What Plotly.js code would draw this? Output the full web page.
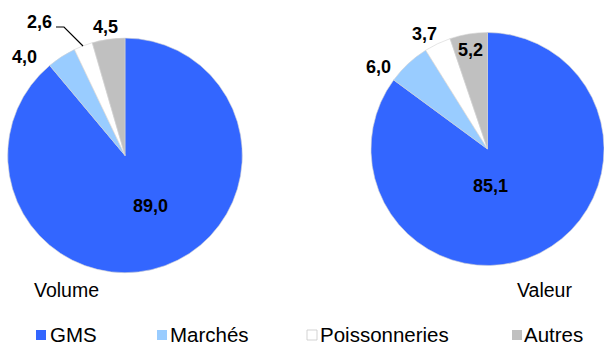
<!DOCTYPE html>
<html>
<head>
<meta charset="utf-8">
<script src="https://cdn.plot.ly/plotly-3.0.1.min.js"></script>
<style>html,body{margin:0;padding:0;background:#fff;}#chart{width:604px;height:342px;}</style>
</head>
<body>
<div id="chart"></div>
<script>
// ---- data ----
const categories = ["GMS", "Marchés", "Poissonneries", "Autres"];
const volumeValues = [89.0, 4.0, 2.6, 4.5];
const valeurValues = [85.1, 6.0, 3.7, 5.2];
const pieTitles = ["Volume", "Valeur"];
const sliceColors = ["#3366FF", "#99CCFF", "#FFFFFF", "#C0C0C0"];

// ---- layout helpers (pixel -> paper) ----
const W = 604, H = 342;
const px = x => x / W;
const py = y => 1 - y / H;
const FONT = "Liberation Sans, Arial, sans-serif";
const fmt = v => v.toFixed(1).replace(".", ",");

const pieCommon = {
  type: "pie",
  labels: categories,
  sort: false,
  direction: "clockwise",
  rotation: 0,
  textinfo: "none",
  hoverinfo: "label+value",
  showlegend: false,
  marker: {colors: sliceColors, line: {color: "#d4d4d4", width: 0.6}}
};

const traces = [
  Object.assign({}, pieCommon, {
    values: volumeValues, name: pieTitles[0],
    domain: {x: [px(7.7), px(242.3)], y: [py(272.7), py(38.1)]}
  }),
  Object.assign({}, pieCommon, {
    values: valeurValues, name: pieTitles[1],
    domain: {x: [px(371), 1], y: [py(266), py(32)]}
  })
];

// value label positions (pixel centres) for each slice
const volLabelPos = [[150, 206.5], [24.5, 57], [39, 22.5], [105.5, 27]];
const valLabelPos = [[490, 186], [378.5, 67], [424.5, 34], [470, 50.5]];

const annotations = [];
function addLabels(values, pos) {
  values.forEach((v, i) => {
    annotations.push({
      xref: "paper", yref: "paper", x: px(pos[i][0]), y: py(pos[i][1]),
      xanchor: "center", yanchor: "middle", showarrow: false,
      text: "<b>" + fmt(v) + "</b>",
      font: {family: FONT, size: 18, color: "#000"}
    });
  });
}
addLabels(volumeValues, volLabelPos);
addLabels(valeurValues, valLabelPos);

// pie titles
annotations.push({xref: "paper", yref: "paper", x: px(66), y: py(289.5), xanchor: "center", yanchor: "middle",
  showarrow: false, text: pieTitles[0], font: {family: FONT, size: 19.5, color: "#000"}});
annotations.push({xref: "paper", yref: "paper", x: px(544.5), y: py(290), xanchor: "center", yanchor: "middle",
  showarrow: false, text: pieTitles[1], font: {family: FONT, size: 19.5, color: "#000"}});

// custom legend
const legMarkX = [36, 157, 307, 512];
const legTextX = [51, 171, 321, 525];
const shapes = [];
categories.forEach((c, i) => {
  shapes.push({type: "rect", xref: "paper", yref: "paper",
    x0: px(legMarkX[i]), x1: px(legMarkX[i] + 10), y0: py(340), y1: py(330),
    fillcolor: sliceColors[i], line: {color: i === 2 ? "#c8c8c8" : sliceColors[i], width: i === 2 ? 0.8 : 0}});
  annotations.push({xref: "paper", yref: "paper", x: px(legTextX[i] - 3), y: py(334.5),
    xanchor: "left", yanchor: "middle", showarrow: false, text: c,
    font: {family: FONT, size: 20.5, color: "#000"}});
});

// leader line for the 2,6 label
shapes.push({type: "path", xref: "paper", yref: "paper",
  path: `M ${px(56)} ${py(27)} L ${px(64)} ${py(27)} L ${px(83)} ${py(46)}`,
  line: {color: "#000", width: 1.2}});

const layout = {
  width: W, height: H,
  margin: {l: 0, r: 0, t: 0, b: 0},
  paper_bgcolor: "#fff", plot_bgcolor: "#fff",
  showlegend: false,
  font: {family: FONT},
  annotations: annotations,
  shapes: shapes
};

Plotly.newPlot("chart", traces, layout, {displayModeBar: false, staticPlot: true});
</script>
</body>
</html>
